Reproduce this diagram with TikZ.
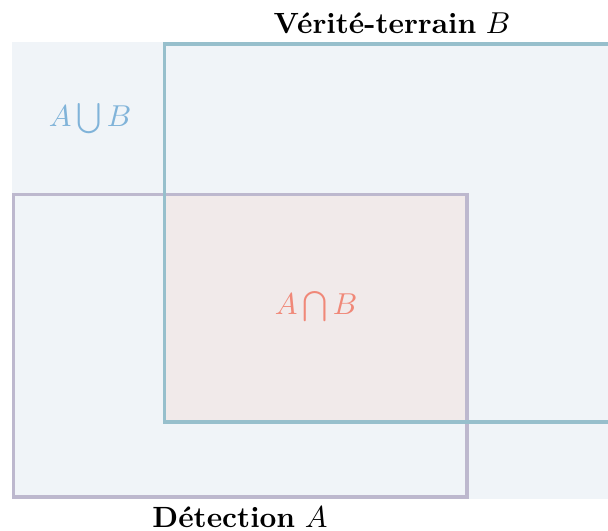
\documentclass[tikz,border=0pt]{standalone}
\usepackage{amsmath}
\definecolor{bgfill}{HTML}{F0F4F8}
\definecolor{interfill}{HTML}{F1EAEA}
\definecolor{bline}{HTML}{97BFCC}
\definecolor{aline}{HTML}{BDB8CE}
\definecolor{uniontxt}{HTML}{80B3D9}
\definecolor{intertxt}{HTML}{F08878}
\begin{document}
\begin{tikzpicture}[x=0.362pt,y=-0.362pt,every node/.style={font=\fontsize{10.6}{12.7}\selectfont}]
\useasboundingbox (0,0) rectangle (608,531);
\clip (0,0) rectangle (608,531);
\tikzset{rectline/.style={line width=1.1pt}}
\fill[bgfill] (12,42.5) rectangle (620,498.5);
\fill[interfill] (164.5,194.5) rectangle (467,422);
\draw[rectline,aline] (13.5,194.5) rectangle (467,497);
\draw[rectline,bline] (164.5,44) rectangle (640,422);
\node[uniontxt] (union) at (90,119) {$A\bigcup B$};
\node[intertxt] (inter) at (316,307) {$A\bigcap B$};
\node (gt) at (392,23) {\textbf{Vérité-terrain} $B$};
\node (det) at (240,517) {\textbf{Détection} $A$};
\end{tikzpicture}
\end{document}
